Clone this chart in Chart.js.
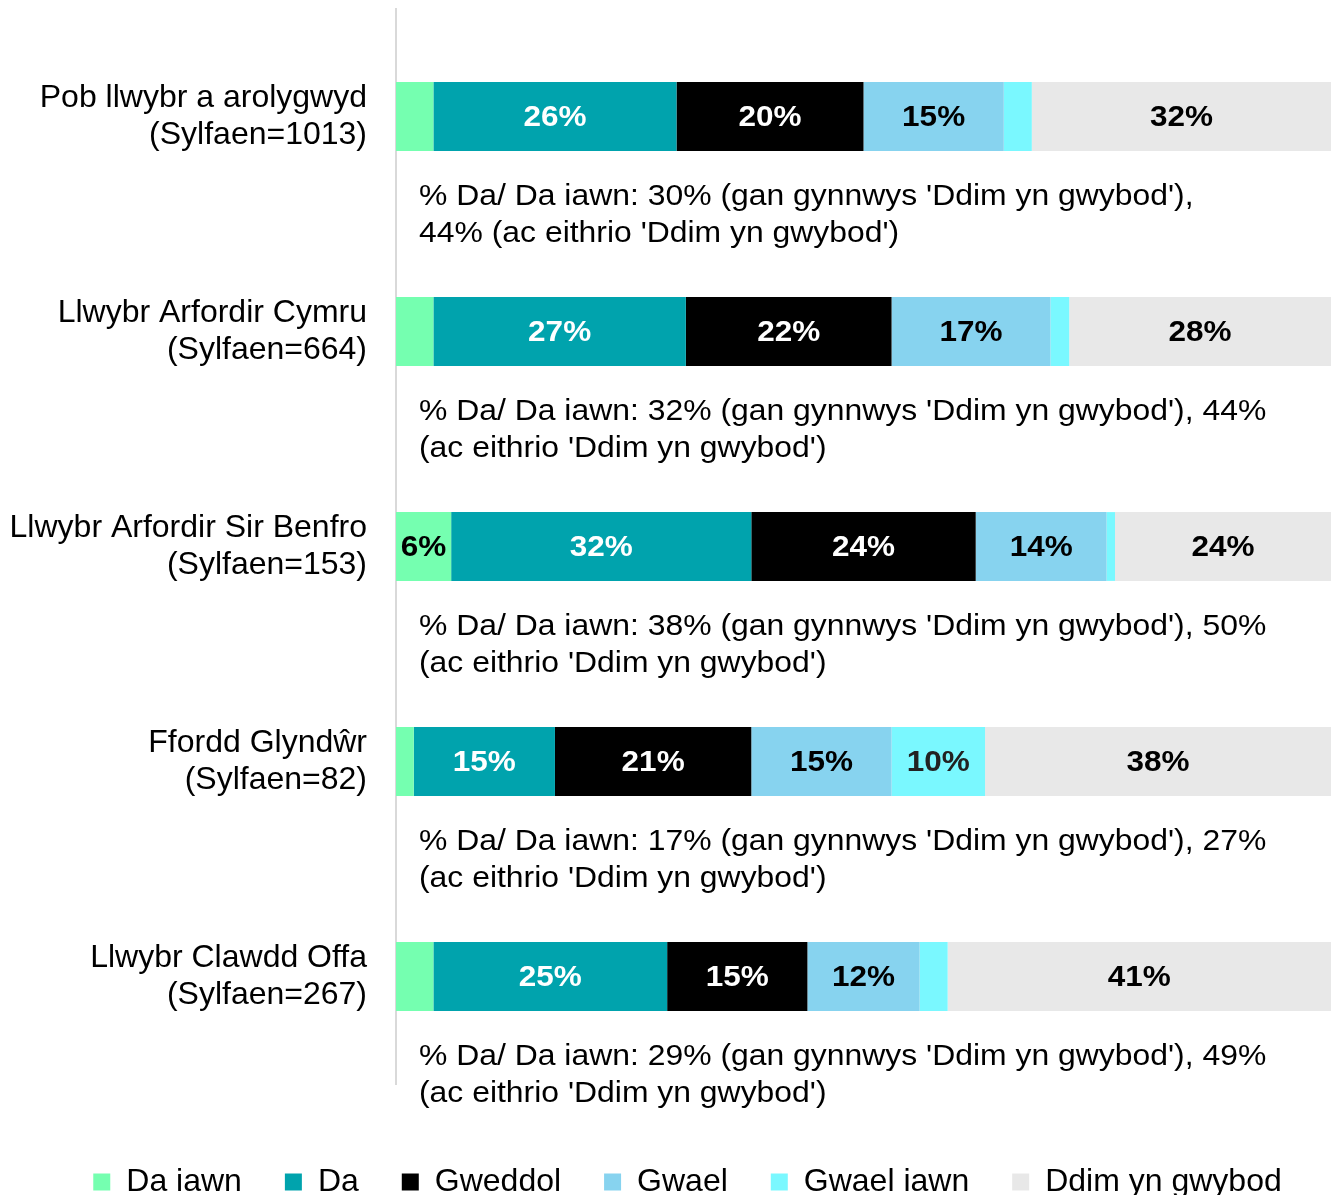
<!DOCTYPE html>
<html>
<head>
<meta charset="utf-8">
<script src="https://cdn.jsdelivr.net/npm/chart.js@4.4.0/dist/chart.umd.min.js"></script>
<style>
  html, body { margin: 0; padding: 0; background: #fff; overflow: hidden; }
  #wrap { width: 1338px; height: 1208px; }
</style>
</head>
<body>
<div id="wrap"><canvas id="chart" width="1338" height="1208"></canvas></div>
<script>
// categories (two-line labels)
var categories = [
  ["Pob llwybr a arolygwyd", "(Sylfaen=1013)"],
  ["Llwybr Arfordir Cymru", "(Sylfaen=664)"],
  ["Llwybr Arfordir Sir Benfro", "(Sylfaen=153)"],
  ["Ffordd Glyndŵr", "(Sylfaen=82)"],
  ["Llwybr Clawdd Offa", "(Sylfaen=267)"]
];

var seriesNames = ["Da iawn", "Da", "Gweddol", "Gwael", "Gwael iawn", "Ddim yn gwybod"];

// % values
var daIawn    = [4, 4, 5.9, 1.9, 4];
var da        = [26, 27, 32.1, 15.1, 25];
var gweddol   = [20, 22, 24, 21, 15];
var gwael     = [15, 17, 14, 15, 12];
var gwaelIawn = [3, 2, 0.9, 10, 3];
var ddimYn    = [32, 28, 23.5, 37.5, 41];

// notes printed under each bar
var notes = [
  ["% Da/ Da iawn: 30% (gan gynnwys 'Ddim yn gwybod'),", "44% (ac eithrio 'Ddim yn gwybod')"],
  ["% Da/ Da iawn: 32% (gan gynnwys 'Ddim yn gwybod'), 44%", "(ac eithrio 'Ddim yn gwybod')"],
  ["% Da/ Da iawn: 38% (gan gynnwys 'Ddim yn gwybod'), 50%", "(ac eithrio 'Ddim yn gwybod')"],
  ["% Da/ Da iawn: 17% (gan gynnwys 'Ddim yn gwybod'), 27%", "(ac eithrio 'Ddim yn gwybod')"],
  ["% Da/ Da iawn: 29% (gan gynnwys 'Ddim yn gwybod'), 49%", "(ac eithrio 'Ddim yn gwybod')"]
];

var colors = ["#75FFB0", "#00A3AD", "#000000", "#87D3EF", "#7AF8FF", "#E8E8E8"];
var labelColors = ["#000", "#fff", "#fff", "#000", "#222", "#000"];
var FONT = "'Liberation Sans', Arial, sans-serif";

var values = [daIawn, da, gweddol, gwael, gwaelIawn, ddimYn];
var datasets = values.map(function (arr, i) {
  return {
    label: seriesNames[i],
    data: arr,
    backgroundColor: colors[i],
    borderWidth: 0,
    barPercentage: 0.32,
    categoryPercentage: 1
  };
});

// percent labels inside the bars
var barLabels = {
  id: "barLabels",
  afterDatasetsDraw: function (chart) {
    var ctx = chart.ctx;
    var right = chart.chartArea.right;
    chart.data.datasets.forEach(function (ds, di) {
      var meta = chart.getDatasetMeta(di);
      meta.data.forEach(function (el, i) {
        var v = ds.data[i];
        if (Math.round(v) < 5) return;
        ctx.save();
        ctx.font = "bold 30px " + FONT;
        ctx.textAlign = "center";
        ctx.textBaseline = "middle";
        ctx.fillStyle = labelColors[di];
        ctx.translate((Math.min(el.x, right) + el.base) / 2, el.y + 1);
        ctx.scale(1.05, 1);
        ctx.fillText(Math.round(v) + "%", 0, 0);
        ctx.restore();
      });
    });
  }
};

// note text under each bar (slightly widened like the original)
var noteText = {
  id: "noteText",
  afterDraw: function (chart) {
    var ctx = chart.ctx;
    var y = chart.scales.y;
    notes.forEach(function (lines, i) {
      var cy = y.getPixelForValue(i) + 80;
      lines.forEach(function (t, k) {
        ctx.save();
        ctx.font = "29px " + FONT;
        ctx.fillStyle = "#000";
        ctx.textAlign = "left";
        ctx.textBaseline = "middle";
        ctx.translate(chart.chartArea.left + 23, cy + k * 37);
        ctx.scale(1.1, 1);
        ctx.fillText(t, 0, 0);
        ctx.restore();
      });
    });
  }
};

// nudge the legend row a bit right, as in the original
var legendShift = {
  id: "legendShift",
  afterLayout: function (chart) {
    chart.legend.left += 22;
    chart.legend.right += 22;
  }
};

var ctx = document.getElementById("chart").getContext("2d");
var chart = new Chart(ctx, {
  type: "bar",
  data: { labels: categories, datasets: datasets },
  options: {
    indexAxis: "y",
    responsive: false,
    animation: false,
    layout: { padding: { top: 9, left: 0, right: 7, bottom: 0 } },
    plugins: {
      legend: {
        position: "bottom",
        labels: {
          font: { family: FONT, size: 32 },
          color: "#000",
          boxWidth: 17,
          boxHeight: 17,
          padding: 43
        }
      },
      tooltip: { enabled: false }
    },
    scales: {
      x: {
        stacked: true, min: 0, max: 100,
        ticks: { display: false },
        grid: { display: false, drawTicks: false },
        border: { display: false },
        afterFit: function (scale) { scale.height = 39; }
      },
      y: {
        stacked: true,
        grid: { display: false, drawTicks: false },
        border: { display: true, color: "#D9D9D9", width: 2 },
        ticks: {
          font: { family: FONT, size: 32, lineHeight: 1.156 },
          color: "#000",
          padding: 29
        },
        afterFit: function (scale) {
          scale.width = 396;
          scale.paddingTop = 0;
          scale.paddingBottom = 0;
        }
      }
    }
  },
  plugins: [barLabels, noteText, legendShift]
});
</script>
</body>
</html>
